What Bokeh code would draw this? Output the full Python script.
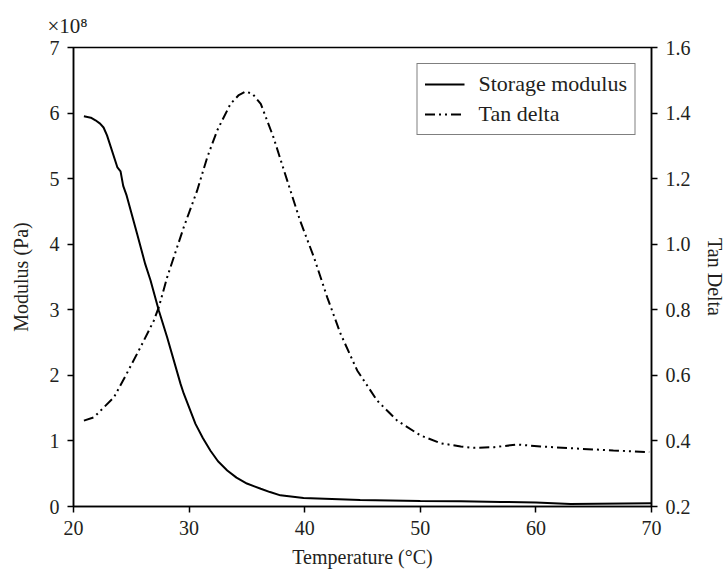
from bokeh.plotting import figure
from bokeh.models import LinearAxis, Range1d, FixedTicker, Legend, LegendItem, PrintfTickFormatter, Title
from bokeh.embed import file_html
from bokeh.resources import INLINE

# Storage modulus (x 1e8 Pa) vs temperature
temp_mod = [20.9, 21.5, 21.9, 22.3, 22.6, 22.9, 23.8, 24.07, 24.3, 24.6, 25.5, 26.2, 26.66, 27.38,
            28.1, 29.26, 29.54, 30.55, 31.2, 31.85, 32.5, 33.3, 34.1, 35.0, 36.2, 37.0, 37.9, 39.9,
            44.8, 50.0, 53.5, 57.0, 60.0, 63.0, 70.0]
modulus = [5.95, 5.93, 5.89, 5.84, 5.78, 5.66, 5.17, 5.11, 4.89, 4.74, 4.16, 3.70, 3.45, 2.99,
           2.58, 1.87, 1.72, 1.26, 1.04, 0.85, 0.69, 0.55, 0.44, 0.35, 0.27, 0.22, 0.17, 0.13,
           0.10, 0.085, 0.08, 0.07, 0.06, 0.04, 0.05]

# Tan delta vs temperature
temp_tan = [20.9, 21.76, 23.5, 24.6, 25.8, 26.95, 27.38, 28.1, 29.54, 30.7, 31.57,
            32.43, 33.58, 34.3, 34.9, 35.5, 36.2, 37.3, 38.49, 39.6, 40.8, 41.95,
            43.1, 44.54, 46.27, 48.0, 50.0, 51.75, 53.5, 54.6, 56.4, 58.4, 60.4,
            63.9, 66.7, 69.8]
tan_delta = [0.462, 0.472, 0.533, 0.605, 0.686, 0.767, 0.808, 0.899, 1.052, 1.164,
             1.265, 1.347, 1.428, 1.455, 1.466, 1.458, 1.428, 1.326, 1.194, 1.072,
             0.960, 0.838, 0.727, 0.615, 0.523, 0.462, 0.417, 0.393, 0.383, 0.379,
             0.381, 0.389, 0.383, 0.376, 0.371, 0.366]

x_ticks = [20, 30, 40, 50, 60, 70]
left_ticks = [0, 1, 2, 3, 4, 5, 6, 7]
right_ticks = [0.2, 0.4, 0.6, 0.8, 1.0, 1.2, 1.4, 1.6]

FONT = "Liberation Serif"
FS = "20px"
TXT = "#231f20"

p = figure(width=728, height=573, x_range=Range1d(20, 70), y_range=Range1d(0, 7),
           output_backend="svg", toolbar_location=None,
           min_border_left=73, min_border_right=77, min_border_top=47, min_border_bottom=67)
p.extra_y_ranges = {"tan": Range1d(0.2, 1.6)}
p.grid.visible = False
p.outline_line_color = "black"
p.outline_line_width = 1.5
p.background_fill_color = "white"
p.border_fill_color = "white"

r1 = p.line(temp_mod, modulus, line_color="black", line_width=2)
r2 = p.line(temp_tan, tan_delta, line_color="black", line_width=2,
            line_dash="10 4 2 4 2 4", y_range_name="tan")

right = LinearAxis(y_range_name="tan")
p.add_layout(right, "right")

p.xaxis.ticker = FixedTicker(ticks=x_ticks)
p.yaxis[0].ticker = FixedTicker(ticks=left_ticks)
right.ticker = FixedTicker(ticks=right_ticks)
right.formatter = PrintfTickFormatter(format="%.1f")

p.xaxis.axis_label = "Temperature (°C)"
p.yaxis[0].axis_label = "Modulus (Pa)"
right.axis_label = "Tan Delta"

for ax in [p.xaxis[0], p.yaxis[0], right]:
    ax.axis_line_color = "black"
    ax.axis_line_width = 1.5
    ax.major_tick_line_color = "black"
    ax.major_tick_line_width = 1.5
    ax.major_tick_out = 6
    ax.major_tick_in = 0
    ax.minor_tick_line_color = None
    ax.major_label_text_font = FONT
    ax.major_label_text_font_size = FS
    ax.major_label_text_color = TXT
    ax.axis_label_text_font = FONT
    ax.axis_label_text_font_size = FS
    ax.axis_label_text_font_style = "normal"
    ax.axis_label_text_color = TXT
    ax.major_label_standoff = 8

p.xaxis.axis_label_standoff = 8
p.yaxis[0].axis_label_standoff = 15
right.axis_label_standoff = 10

legend = Legend(items=[LegendItem(label="Storage modulus", renderers=[r1]),
                       LegendItem(label="Tan delta", renderers=[r2])],
                location="top_right")
legend.margin = 16
legend.padding = 7
legend.spacing = 4
legend.glyph_width = 40
legend.label_standoff = 14
legend.label_text_font = FONT
legend.label_text_font_size = "22px"
legend.label_text_color = TXT
legend.border_line_color = "black"
legend.border_line_width = 1.5
legend.background_fill_alpha = 1.0
p.add_layout(legend)

p.add_layout(Title(text="×10⁸", align="left", offset=-26, text_font=FONT,
                   text_font_size="21px", text_font_style="normal", text_color=TXT,
                   standoff=20), "above")

open("out.html", "w").write(file_html(p, INLINE))
